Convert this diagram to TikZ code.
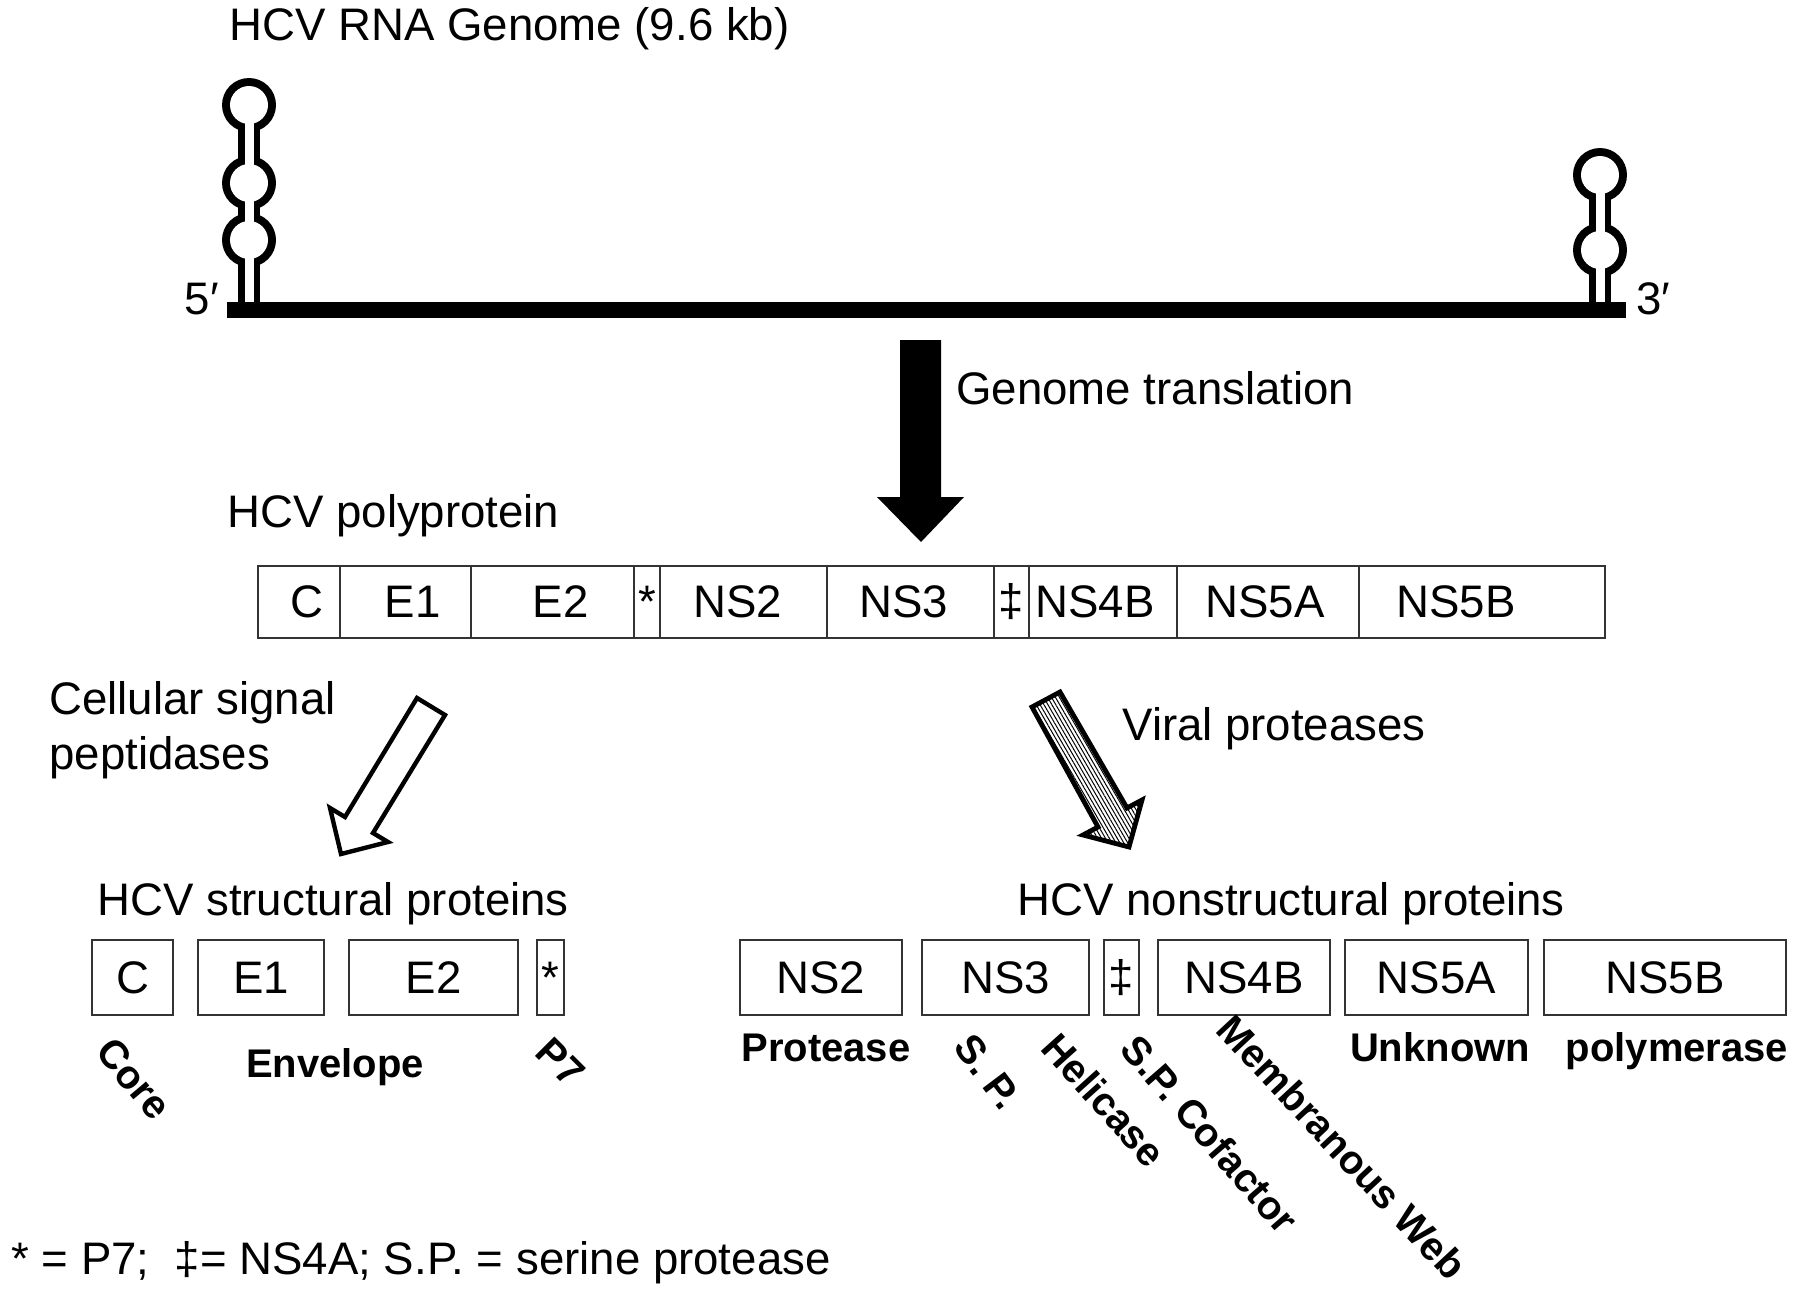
\documentclass[tikz,border=0pt]{standalone}
\usepackage{fontspec}
\setmainfont{Liberation Sans}
\usepackage{tikz}
\usetikzlibrary{patterns.meta}

\begin{document}
\begin{tikzpicture}[x=0.5pt,y=0.5pt,yscale=-1,xscale=1,
  txt/.style={inner sep=0pt,font=\fontsize{22.8}{27.5}\selectfont},
  lbl/.style={inner sep=0pt,font=\fontsize{20}{24}\selectfont\bfseries},
  rlbl/.style={inner sep=0pt,font=\fontsize{20}{24}\selectfont\bfseries},
  cell/.style={draw=black!80,line width=0.9pt,inner sep=0pt,font=\fontsize{22.8}{27.5}\selectfont},
  pcell/.style={cell,minimum height=36pt},
  scell/.style={cell,minimum height=37.5pt}]
\useasboundingbox (0,0) rectangle (1800,1290);

%Shape: stem-loop 5' [left]
\draw [line width=11pt] (249,303) -- (249,105) ;
\fill (249,105) circle [radius=27] ;
\fill (249,183) circle [radius=27] ;
\fill (249,240) circle [radius=27] ;
\draw [white,line width=4.5pt] (249,304) -- (249,105) ;
\fill [white] (249,105) circle [radius=19] ;
\fill [white] (249,183) circle [radius=19] ;
\fill [white] (249,240) circle [radius=19] ;
%Shape: stem-loop 3' [right]
\draw [line width=11pt] (1600,303) -- (1600,175) ;
\fill (1600,175) circle [radius=27] ;
\fill (1600,250) circle [radius=27] ;
\draw [white,line width=4.5pt] (1600,304) -- (1600,175) ;
\fill [white] (1600,175) circle [radius=19] ;
\fill [white] (1600,250) circle [radius=19] ;
%Shape: genome bar
\fill (227,302) rectangle (1626,318) ;

%Shape: big arrow (translation)
\fill (900,340) -- (941,340) -- (941,497) -- (964,497) -- (921,542) -- (877,497) -- (900,497) -- cycle ;
%Shape: open arrow (signal peptidases)
\draw [line width=2.2pt,fill=white,line join=miter] (417,698) -- (445,715) -- (373,833) -- (388,842) -- (341,854) -- (330,808) -- (345,817) -- cycle ;
%Shape: hatched arrow (viral proteases)
\draw [line width=2.4pt,line join=miter,pattern={Lines[angle=-60,distance=1.7pt,line width=0.5pt]}] (1060,692) -- (1032,707) -- (1098,827) -- (1083,835) -- (1129,847) -- (1142,800) -- (1127,808) -- cycle ;

% Text Node
\node [txt,anchor=base west] (title) at (229,40) {HCV RNA Genome (9.6 kb)};
\node [txt,anchor=base east] (five) at (219,314) {5\char"2032};
\node [txt,anchor=base west] (three) at (1636,314) {3\char"2032};
\node [txt,anchor=base west] (trans) at (956,404) {Genome translation};
\node [txt,anchor=base west] (poly) at (227,527) {HCV polyprotein};
\node [txt,anchor=base west] (sig1) at (49,714) {Cellular signal};
\node [txt,anchor=base west] (sig2) at (49,769) {peptidases};
\node [txt,anchor=base west] (viral) at (1122,740) {Viral proteases};
\node [txt,anchor=base west] (struct) at (97,915) {HCV structural proteins};
\node [txt,anchor=base west] (nonstruct) at (1017,915) {HCV nonstructural proteins};
\node [txt,anchor=base west] (note) at (11,1274) {* = P7;\ \ \char"2021= NS4A; S.P. = serine protease};

% polyprotein cells
\node [pcell,minimum width=41pt] (pC) at (299,602) {\kern8pt C};
\node [pcell,minimum width=65.5pt] (pE1) at (405.5,602) {\kern7pt E1};
\node [pcell,minimum width=81.5pt] (pE2) at (552.5,602) {\kern8pt E2};
\node [pcell,minimum width=13pt] (pP7) at (647,602) {*};
\node [pcell,minimum width=83.5pt] (pNS2) at (743.5,602) {NS2\kern6pt};
\node [pcell,minimum width=83.5pt] (pNS3) at (910.5,602) {NS3\kern7pt};
\node [pcell,minimum width=17.5pt] (pNS4A) at (1011.5,602) {\char"2021};
\node [pcell,minimum width=74pt] (pNS4B) at (1103,602) {NS4B\kern8pt};
\node [pcell,minimum width=91pt] (pNS5A) at (1268,602) {NS5A\kern3pt};
\node [pcell,minimum width=123pt] (pNS5B) at (1482,602) {NS5B\kern26pt};

% structural proteins
\node [scell,minimum width=40.5pt] (sC) at (132.5,977.5) {C};
\node [scell,minimum width=63pt] (sE1) at (261,977.5) {E1};
\node [scell,minimum width=84.5pt] (sE2) at (433.5,977.5) {E2};
\node [scell,minimum width=13.5pt] (sP7) at (550.5,977.5) {*};
% nonstructural proteins
\node [scell,minimum width=81pt] (nNS2) at (821,977.5) {NS2};
\node [scell,minimum width=83.5pt] (nNS3) at (1005.5,977.5) {NS3};
\node [scell,minimum width=17.5pt] (nNS4A) at (1121.5,977.5) {\char"2021};
\node [scell,minimum width=86pt] (nNS4B) at (1244,977.5) {NS4B};
\node [scell,minimum width=91.5pt] (nNS5A) at (1436.5,977.5) {NS5A};
\node [scell,minimum width=121pt] (nNS5B) at (1665,977.5) {NS5B};

% function labels
\node [rlbl,rotate=-50] (lCore) at (134,1079) {Core};
\node [lbl,anchor=base] (lEnv) at (335,1077) {Envelope};
\node [rlbl,rotate=-45] (lP7) at (561,1062) {P7};
\node [lbl,anchor=base] (lProt) at (826,1061) {Protease};
\node [rlbl,rotate=-53] (lSP) at (988,1072) {S. P.};
\node [rlbl,rotate=-48] (lHel) at (1104,1100) {Helicase};
\node [rlbl,rotate=-49] (lCof) at (1210,1134) {S.P. Cofactor};
\node [rlbl,rotate=-47] (lWeb) at (1342,1147) {Membranous Web};
\node [lbl,anchor=base] (lUnk) at (1440,1061) {Unknown};
\node [lbl,anchor=base] (lPol) at (1677,1061) {polymerase};

\end{tikzpicture}
\end{document}
